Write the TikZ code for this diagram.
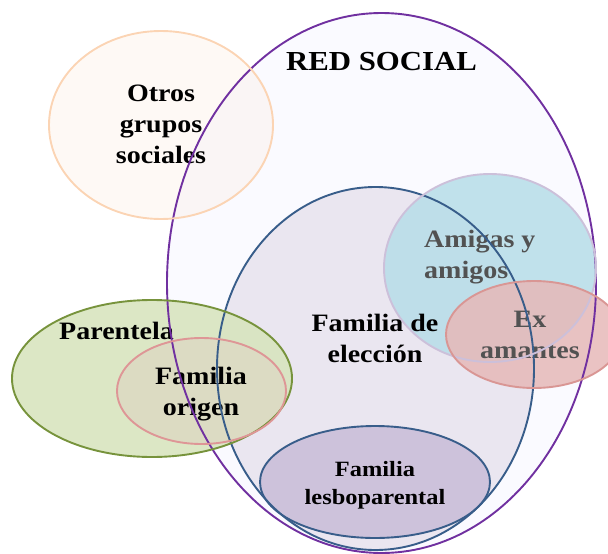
\documentclass[tikz,border=0pt]{standalone}
\usepackage{fontspec}
\setmainfont{Liberation Serif}[FakeStretch=1.12]
\begin{document}
\begin{tikzpicture}[x=1pt,y=-1pt,
  lbl/.style={font=\bfseries\fontsize{25}{31}\selectfont, align=center, inner sep=0pt, text=black},
  lblgray/.style={lbl, text=black!68},
  bord/.style={line width=1.9pt}]
\useasboundingbox (0,0) rectangle (608,554);
\begin{scope}
\clip (0,0) rectangle (608,554);
% centres
\coordinate (cBig) at (381.5,283);
\coordinate (cOtros) at (161,125);
\coordinate (cElec) at (375.5,368.5);
\coordinate (cAmi) at (490,268);
\coordinate (cEx) at (534,334.5);
\coordinate (cPar) at (152,378.5);
\coordinate (cOri) at (201.5,391);
\coordinate (cLes) at (375,482);
% fills
\fill[fill=black!2!blue!2!white] (cBig) ellipse [x radius=214.5pt, y radius=270pt];
\fill[fill={rgb,255:red,251;green,212;blue,180}, fill opacity=0.13] (cOtros) ellipse [x radius=112pt, y radius=94pt];
\fill[fill={rgb,255:red,229;green,224;blue,236}, fill opacity=0.75] (cElec) ellipse [x radius=158.5pt, y radius=181.5pt];
\fill[fill={rgb,255:red,183;green,221;blue,232}, fill opacity=0.85] (cAmi) ellipse [x radius=106pt, y radius=94pt];
\fill[fill={rgb,255:red,230;green,185;blue,184}, fill opacity=0.85] (cEx) ellipse [x radius=88pt, y radius=53.5pt];
\fill[fill={rgb,255:red,215;green,228;blue,189}, fill opacity=0.88] (cPar) ellipse [x radius=140pt, y radius=78.5pt];
\fill[fill={rgb,255:red,221;green,217;blue,195}, fill opacity=0.8] (cOri) ellipse [x radius=84.5pt, y radius=53pt];
\fill[fill={rgb,255:red,204;green,193;blue,218}, fill opacity=0.95] (cLes) ellipse [x radius=115pt, y radius=56pt];
% labels
\node[lbl, font=\bfseries\fontsize{27.5}{33}\selectfont] (red) at (381.5,62) {RED SOCIAL};
\node[lbl] (otros) at (161,124.5) {Otros\\grupos\\sociales};
\node[lbl] (elec) at (375,338) {Familia de\\elección};
\node[lblgray, align=left, anchor=west] (ami) at (424,257) {Amigas y\\amigos};
\node[lblgray] (ex) at (530,335) {Ex\\amantes};
\node[lbl] (par) at (116.5,331) {Parentela};
\node[lbl] (ori) at (201,394.5) {Familia\\origen};
\node[lbl, font=\bfseries\fontsize{21.8}{28}\selectfont] (les) at (375,485) {Familia\\lesboparental};
% borders
\draw[bord, draw={rgb,255:red,112;green,48;blue,160}] (cBig) ellipse [x radius=214.5pt, y radius=270pt];
\draw[bord, draw={rgb,255:red,251;green,212;blue,180}] (cOtros) ellipse [x radius=112pt, y radius=94pt];
\draw[bord, draw={rgb,255:red,56;green,93;blue,138}] (cElec) ellipse [x radius=158.5pt, y radius=181.5pt];
\draw[bord, draw={rgb,255:red,204;green,192;blue,218}] (cAmi) ellipse [x radius=106pt, y radius=94pt];
\draw[bord, draw={rgb,255:red,217;green,150;blue,148}] (cEx) ellipse [x radius=88pt, y radius=53.5pt];
\draw[bord, draw={rgb,255:red,119;green,147;blue,60}] (cPar) ellipse [x radius=140pt, y radius=78.5pt];
\draw[bord, draw={rgb,255:red,222;green,150;blue,150}] (cOri) ellipse [x radius=84.5pt, y radius=53pt];
\draw[bord, draw={rgb,255:red,56;green,93;blue,138}] (cLes) ellipse [x radius=115pt, y radius=56pt];
\end{scope}
\end{tikzpicture}
\end{document}
